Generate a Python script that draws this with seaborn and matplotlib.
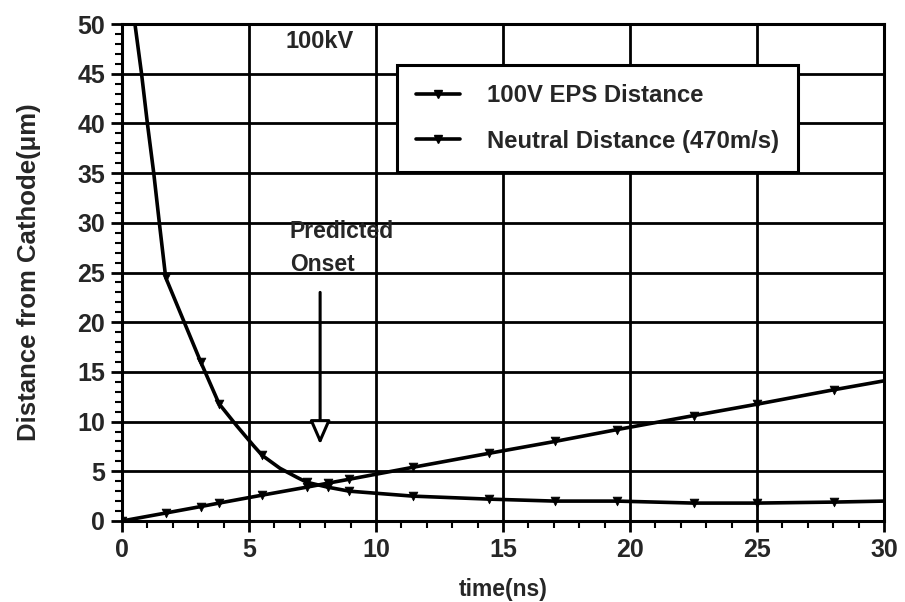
import matplotlib
matplotlib.use("Agg")
import matplotlib.pyplot as plt
import seaborn as sns
import pandas as pd
from matplotlib.lines import Line2D

# ---- data ----
time_ns = [0, 1.72, 3.1, 3.82, 5.52, 7.27, 8.1, 8.95, 11.45, 14.43, 17.04, 19.5, 22.5, 25.0, 28.02, 30]
eps_dist = [None, 24.5, 16.0, 11.8, 6.6, 3.9, 3.4, 3.0, 2.5, 2.2, 2.0, 2.0, 1.8, 1.8, 1.9, 2.0]
neutral_dist = [0.0, 0.8, 1.45, 1.8, 2.6, 3.4, 3.8, 4.2, 5.4, 6.8, 8.0, 9.2, 10.6, 11.75, 13.2, 14.1]

# EPS line trace (curve enters from above the chart at small t; extra points)
eps_trace_t = [0.45, 0.51, 0.77, 1.0, 1.25, 1.47, 1.72, 3.1, 3.82, 4.51, 5.17, 5.52, 6.22, 6.88,
               7.27, 8.1, 8.95, 11.45, 14.43, 17.04, 19.5, 22.5, 25.0, 28.02, 30]
eps_trace_d = [52.0, 50.0, 45.0, 40.0, 35.0, 30.0, 24.5, 16.0, 11.8, 9.6, 7.6, 6.6, 5.3, 4.4,
               3.9, 3.4, 3.0, 2.5, 2.2, 2.0, 2.0, 1.8, 1.8, 1.9, 2.0]

eps_marker_t = time_ns[1:-1]
eps_marker_d = eps_dist[1:-1]
neu_marker_t = time_ns[:-1]
neu_marker_d = neutral_dist[:-1]

x_ticks = [0, 5, 10, 15, 20, 25, 30]
y_ticks = [0, 5, 10, 15, 20, 25, 30, 35, 40, 45, 50]
legend_labels = ["100V EPS Distance", "Neutral Distance (470m/s)"]

sns.set_theme(style="white")
plt.rcParams["font.family"] = ["Liberation Sans", "DejaVu Sans"]

fig = plt.figure(figsize=(9.05, 6.02), dpi=100)
ax = fig.add_axes([0.1348, 0.1346, 0.8420, 0.8254])

df_eps = pd.DataFrame({"t": eps_trace_t, "d": eps_trace_d})
df_neu = pd.DataFrame({"t": time_ns, "d": neutral_dist})

sns.lineplot(data=df_eps, x="t", y="d", ax=ax, color="black", linewidth=2.6,
             estimator=None, sort=False, zorder=5)
sns.lineplot(data=df_neu, x="t", y="d", ax=ax, color="black", linewidth=2.6,
             estimator=None, sort=False, zorder=5)
sns.scatterplot(x=eps_marker_t, y=eps_marker_d, ax=ax, color="black", marker="v",
                s=40, edgecolor="black", zorder=6)
sns.scatterplot(x=neu_marker_t, y=neu_marker_d, ax=ax, color="black", marker="v",
                s=40, edgecolor="black", zorder=6)

ax.set_xlim(0, 30)
ax.set_ylim(0, 50)
ax.set_xticks(x_ticks)
ax.set_yticks(y_ticks)
ax.set_xticks(range(0, 31), minor=True)
ax.set_yticks(range(0, 51), minor=True)
ax.set_xticklabels([str(v) for v in x_ticks], fontsize=18, fontweight="bold")
ax.set_yticklabels([str(v) for v in y_ticks], fontsize=18, fontweight="bold")
ax.tick_params(axis="both", which="major", direction="out", length=8, width=2, color="black", pad=4)
ax.tick_params(axis="both", which="minor", direction="out", length=5, width=1.5, color="black")
ax.tick_params(axis="both", which="both", bottom=True, left=True)

ax.grid(True, which="major", color="black", linewidth=2.0)
for s in ax.spines.values():
    s.set_color("black")
    s.set_linewidth(2.2)

ax.set_xlabel("time(ns)", fontsize=16.5, fontweight="bold", labelpad=12)
ax.set_ylabel("Distance from Cathode(\u03bcm)", fontsize=18.5, fontweight="bold", labelpad=26)

ax.text(7.8, 48.2, "100kV", fontsize=17, fontweight="heavy", ha="center", va="center")
ax.text(6.6, 29.1, "Predicted", fontsize=16.5, fontweight="heavy", ha="left", va="center")
ax.text(6.6, 25.8, "Onset", fontsize=16.5, fontweight="heavy", ha="left", va="center")
ax.annotate("", xy=(7.8, 7.7), xytext=(7.8, 23.0),
            arrowprops=dict(arrowstyle="-|>,head_length=0.8,head_width=0.35",
                            mutation_scale=18, lw=2.2, fc="white", ec="black",
                            shrinkA=0, shrinkB=0), zorder=7)

handles = [Line2D([0], [0], color="black", lw=2.6, marker="v", markersize=6),
           Line2D([0], [0], color="black", lw=2.6, marker="v", markersize=6)]
leg = ax.legend(handles, legend_labels,
                loc="upper left", bbox_to_anchor=(0.361, 0.918), frameon=True, fancybox=False,
                framealpha=1, edgecolor="black", prop={"size": 17.2, "weight": "bold"},
                handlelength=1.85, borderpad=0.8, labelspacing=0.95, handletextpad=1.1,
                borderaxespad=0)
leg.get_frame().set_linewidth(2.2)
leg.set_zorder(10)

fig.savefig("out.png", dpi=100)
